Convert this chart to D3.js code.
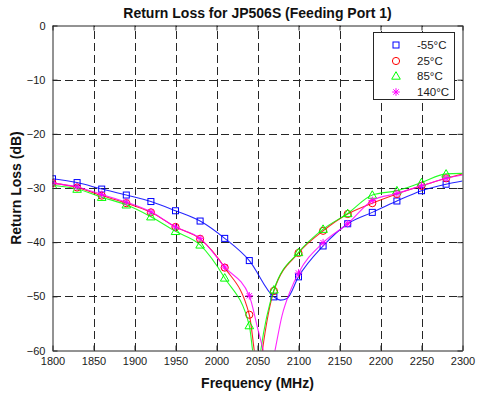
<!DOCTYPE html>
<html><head><meta charset="utf-8">
<script src="https://cdn.jsdelivr.net/npm/d3@7"></script>
<style>
html,body{margin:0;padding:0;background:#fff;}
svg text{font-family:"Liberation Sans",Arial,sans-serif;}
</style></head>
<body><svg id="c" width="479" height="396"></svg>
<script>
// ---------- data ----------
const xTicks = [1800,1850,1900,1950,2000,2050,2100,2150,2200,2250,2300];
const yTicks = [0,-10,-20,-30,-40,-50,-60];
const markerFreqs = [1800,1830,1860,1890,1920,1950,1980,2010,2040,2070,2100,2130,2160,2190,2220,2250,2280];
const seriesNames = ["-55°C","25°C","85°C","140°C"];

const freqM55 = [1800,1830,1860,1890,1920,1950,1980,2010,2040,2070,2078,2086,2100,2130,2160,2190,2220,2250,2280,2300];
const valsM55 = [-28.3,-29.0,-30.2,-31.3,-32.5,-34.2,-36.1,-39.3,-43.4,-50.1,-50.7,-50.4,-46.4,-40.7,-36.6,-34.5,-32.4,-30.5,-29.3,-28.7];

const freq25 = [1800,1830,1860,1890,1920,1950,1980,2010,2040,2046,2051,2056,2070,2100,2130,2160,2190,2220,2250,2280,2300];
const vals25 = [-29.1,-29.9,-31.4,-32.8,-34.5,-37.2,-39.4,-44.7,-53.4,-60,-66,-60,-49.0,-42.0,-37.9,-34.8,-32.8,-31.1,-29.6,-28.2,-27.4];

const freq85 = [1800,1830,1860,1890,1920,1950,1980,2010,2040,2044,2049,2054,2070,2100,2130,2160,2190,2220,2250,2280,2300];
const vals85 = [-29.5,-30.2,-31.7,-33.1,-35.3,-38.0,-40.5,-46.6,-55.4,-60,-66,-60,-48.8,-41.9,-37.6,-34.7,-31.3,-30.5,-29.0,-27.4,-27.3];

const freq140 = [1800,1830,1860,1890,1920,1950,1980,2010,2040,2050,2057,2064,2070,2080,2090,2100,2130,2160,2190,2220,2250,2280,2300];
const vals140 = [-29.1,-29.8,-31.2,-32.6,-34.4,-37.2,-39.3,-44.6,-49.9,-55.8,-60,-65,-61,-53.5,-49,-45.7,-40.1,-36.6,-32.3,-31.0,-29.6,-28.2,-27.6];

// ---------- chart ----------
const svg = d3.select("#c");
const L = 52.5, R = 462.5, T = 25.5, B = 350.5;
const x = d3.scaleLinear().domain([1800,2300]).range([L,R]);
const y = d3.scaleLinear().domain([-60,0]).range([B,T]);

svg.append("defs").append("clipPath").attr("id","clip")
  .append("rect").attr("x",L).attr("y",T).attr("width",R-L).attr("height",B-T);

svg.append("rect").attr("x",L).attr("y",T).attr("width",R-L).attr("height",B-T).attr("fill","#fff");

// grid
const gridCol = "#262626";
const gx = svg.append("g").attr("transform",`translate(0,${B})`)
  .call(d3.axisBottom(x).tickValues(xTicks.slice(1,-1)).tickSize(-(B-T)).tickFormat(""));
gx.select(".domain").remove();
gx.selectAll("line").attr("stroke",gridCol).attr("stroke-dasharray","8,4").attr("shape-rendering","crispEdges");
const gy = svg.append("g").attr("transform",`translate(${L},0)`)
  .call(d3.axisLeft(y).tickValues(yTicks.slice(1,-1)).tickSize(-(R-L)).tickFormat(""));
gy.select(".domain").remove();
gy.selectAll("line").attr("stroke",gridCol).attr("stroke-dasharray","8,4").attr("shape-rendering","crispEdges");

// series
const colors = ["#0000ff","#ff0000","#00ff00","#ff00ff"];
const symbols = ["square","circle","triangle","star"];
const series = [
  {f:freqM55, v:valsM55},
  {f:freq25, v:vals25},
  {f:freq85, v:vals85},
  {f:freq140, v:vals140}
];
const line = d3.line().x(d=>x(d[0])).y(d=>y(d[1])).curve(d3.curveMonotoneX);
const plotG = svg.append("g").attr("clip-path","url(#clip)");

function drawMarker(g, type, cx, cy, col){
  if(type==="square"){
    g.append("rect").attr("x",cx-3).attr("y",cy-3).attr("width",6).attr("height",6)
      .attr("fill","none").attr("stroke",col).attr("stroke-width",1);
  } else if(type==="circle"){
    g.append("circle").attr("cx",cx).attr("cy",cy).attr("r",3.6)
      .attr("fill","none").attr("stroke",col).attr("stroke-width",1);
  } else if(type==="triangle"){
    g.append("path").attr("d",`M${cx},${cy-4.3}L${cx+4.3},${cy+3.2}L${cx-4.3},${cy+3.2}Z`)
      .attr("fill","none").attr("stroke",col).attr("stroke-width",1);
  } else {
    const r=3.8, d=2.7;
    g.append("path").attr("d",`M${cx-r},${cy}L${cx+r},${cy}M${cx},${cy-r}L${cx},${cy+r}M${cx-d},${cy-d}L${cx+d},${cy+d}M${cx-d},${cy+d}L${cx+d},${cy-d}`)
      .attr("fill","none").attr("stroke",col).attr("stroke-width",1);
  }
}

series.forEach((s,i)=>{
  const pts = s.f.map((f,k)=>[f,s.v[k]]);
  plotG.append("path").datum(pts).attr("d",line).attr("fill","none")
    .attr("stroke",colors[i]).attr("stroke-width",1.1).attr("opacity",0.85);
  const mg = plotG.append("g");
  pts.filter(p=>markerFreqs.includes(p[0])).forEach(p=>drawMarker(mg,symbols[i],x(p[0]),y(p[1]),colors[i]));
});

// axes (inward ticks, labels)
const axCol = "#262626";
const ax = svg.append("g").attr("transform",`translate(0,${B})`)
  .call(d3.axisBottom(x).tickValues(xTicks).tickSizeInner(-5).tickSizeOuter(0).tickPadding(9).tickFormat(d3.format("d")));
const axT = svg.append("g").attr("transform",`translate(0,${T})`)
  .call(d3.axisTop(x).tickValues(xTicks).tickSizeInner(-5).tickSizeOuter(0).tickFormat(""));
const ay = svg.append("g").attr("transform",`translate(${L},0)`)
  .call(d3.axisLeft(y).tickValues(yTicks).tickSizeInner(-5).tickSizeOuter(0).tickPadding(7).tickFormat(d3.format("d")));
const ayR = svg.append("g").attr("transform",`translate(${R},0)`)
  .call(d3.axisRight(y).tickValues(yTicks).tickSizeInner(-5).tickSizeOuter(0).tickFormat(""));
[ax,axT,ay,ayR].forEach(g=>{
  g.select(".domain").attr("stroke",axCol);
  g.selectAll("line").attr("stroke",axCol);
  g.selectAll("text").attr("fill","#1a1a1a").attr("font-size","11px").attr("font-family","Liberation Sans, Arial, sans-serif");
});
ax.selectAll("text").attr("dy","0.5em");

// legend
const lg = svg.append("g");
const lx = 373.5, ly = 32.5, lw = 81, lh = 67;
lg.append("rect").attr("x",lx).attr("y",ly).attr("width",lw).attr("height",lh)
  .attr("fill","#fff").attr("stroke","#262626").attr("stroke-width",1);
const legY = [45,61,76,92];
seriesNames.forEach((n,i)=>{
  drawMarker(lg,symbols[i],396,legY[i],colors[i]);
  lg.append("text").attr("x",417).attr("y",legY[i]).attr("dy","0.36em")
    .attr("font-size","11.5px").attr("fill","#1a1a1a").text(n);
});

// titles
svg.append("text").attr("x",(L+R)/2).attr("y",18).attr("text-anchor","middle")
  .attr("font-size","14px").attr("font-weight","bold").attr("fill","#111")
  .text("Return Loss for JP506S (Feeding Port 1)");
svg.append("text").attr("x",(L+R)/2).attr("y",388).attr("text-anchor","middle")
  .attr("font-size","14px").attr("font-weight","bold").attr("fill","#111")
  .text("Frequency (MHz)");
svg.append("text").attr("transform",`translate(21,${(T+B)/2}) rotate(-90)`).attr("text-anchor","middle")
  .attr("font-size","14px").attr("font-weight","bold").attr("fill","#111")
  .text("Return Loss (dB)");
</script></body></html>
